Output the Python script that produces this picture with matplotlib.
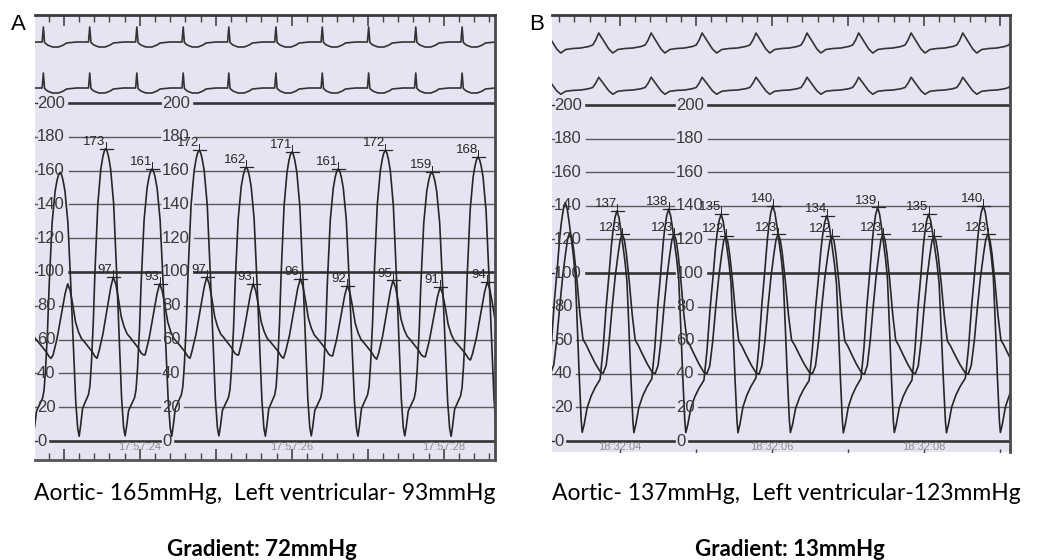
import numpy as np
import matplotlib
matplotlib.use('Agg')
import matplotlib.pyplot as plt

plt.rcParams['font.family'] = ['Liberation Sans', 'DejaVu Sans']

## ---- panel A (seconds past 17:57:00) ----
a_ecg_t = [22.73, 23.34, 23.96, 24.57, 25.17, 25.79, 26.40, 27.01, 27.63, 28.24]
a_up_t = [22.95, 23.55, 24.16, 24.78, 25.40, 26.00, 26.61, 27.23, 27.84, 28.45]
a_up_v = [159, 173, 161, 172, 162, 171, 161, 172, 159, 168]
a_lo_t = [23.05, 23.65, 24.26, 24.88, 25.49, 26.11, 26.73, 27.33, 27.95, 28.57]
a_lo_v = [93, 97, 93, 97, 93, 96, 92, 95, 91, 94]
a_stamps = [24, 26, 28]
a_stamp_txt = ['17:57:24', '17:57:26', '17:57:28']

## ---- panel B (seconds past 18:32:00) ----
b_ecg_t = [3.72, 4.41, 5.08, 5.79, 6.46, 7.14, 7.83, 8.51]
b_up_t = [3.28, 3.96, 4.64, 5.33, 6.01, 6.72, 7.39, 8.06, 8.78]
b_up_v = [142, 137, 138, 135, 140, 134, 139, 135, 140]
b_lo_t = [3.34, 4.03, 4.71, 5.39, 6.08, 6.79, 7.46, 8.13, 8.84]
b_lo_v = [124, 123, 123, 122, 123, 122, 123, 122, 123]
b_stamps = [4, 6, 8]
b_stamp_txt = ['18:32:04', '18:32:06', '18:32:08']

scale_levels = [200, 180, 160, 140, 120, 100, 80, 60, 40, 20, 0]

## one-beat shapes (offset from peak in px, mmHg)
a_up_px = [0, 1.5, 3, 5, 8, 11, 14, 16, 18, 19.5, 21, 23, 26, 29, 30.5, 32, 34, 35.6, 38.6, 41.6, 43.6, 45.1, 46.6]
a_up_sh = [170, 168.5, 165, 158, 138, 98, 55, 25, 8, 3, 9, 19, 23, 27, 32, 45, 70, 98, 138, 158, 165, 168.5, 170]
a_lo_px = [0, 2.5, 5, 8, 11, 14, 17, 21, 25, 28, 30, 32, 34, 36, 39, 41.5, 44, 46.6]
a_lo_sh = [95, 91, 83, 72, 66, 62, 60, 57, 54, 51, 50, 52, 57, 62, 72, 80, 89, 95]
b_up_px = [0, 2, 4, 6, 8, 10, 12, 14, 16, 17, 19, 22, 26, 30, 35, 38, 41, 44, 46.5, 48, 50, 52]
b_up_sh = [138, 134, 126, 117, 108, 96, 68, 38, 12, 5, 10, 20, 27, 32, 37, 55, 80, 100, 118, 126, 134, 138]
b_lo_px = [0, 2, 4, 7, 10, 13, 16, 20, 25, 30, 33, 36, 39, 42, 45, 48, 50, 52]
b_lo_sh = [123, 120, 112, 95, 75, 60, 57, 52, 46, 41, 40, 45, 60, 80, 98, 112, 120, 123]
# ecg complexes (offset from R in px, deflection in px, + is down)
a_ecg_px = [-23, -13, -4, -1.2, 0, 1.2, 4, 9, 15, 20, 23]
a_ecg_dy = [0, -1, -1, -1, -16, -0.5, 2, 4, 4, 2, 0]
b_ecg_px = [-26, -18, -10, -6, -3, 0, 5, 10, 14, 19, 26]
b_ecg_dy = [0.5, 0, -1.5, -3, -8, -15, -7, 1, 5, 1.5, 0.5]

PX = 76.0  # px per second on the strip
BG = '#e6e4f2'
INK = '#262626'


def pressure(pt, pv, px, sh):
    px = np.array(px); sh = np.array(sh)
    ph = px / px[-1]
    imin = int(np.argmin(sh))
    ref = sh[0]
    p = np.mean(np.diff(pt))
    pt = [pt[0] - p] + list(pt) + [pt[-1] + p]
    pv = [pv[0]] + list(pv) + [pv[-1]]
    ts, vs = [], []
    for k in range(len(pt) - 1):
        gap = pt[k + 1] - pt[k]
        for j in range(len(ph) - 1):
            sc = pv[k] if j <= imin else pv[k + 1]
            ts.append(pt[k] + ph[j] * gap)
            vs.append(sh[j] * sc / ref)
    ts.append(pt[-1]); vs.append(pv[-1])
    return np.array(ts), np.array(vs)


def ecg(spk, px, dy, base, ppu, amp=1.0):
    half = px[-1]
    p = np.mean(np.diff(spk))
    spk = [spk[0] - 2 * p, spk[0] - p] + list(spk) + [spk[-1] + p, spk[-1] + 2 * p]
    ts, vs = [], []
    for k in range(1, len(spk) - 1):
        for x, d in zip(px, dy):
            g = (spk[k] - spk[k - 1]) if x < 0 else (spk[k + 1] - spk[k])
            ts.append(spk[k] + x / (2 * half) * g)
            vs.append(base - d * amp / ppu)
    return np.array(ts), np.array(vs)


def scale(ax, x_left, x_second, x_right):
    for lv in scale_levels:
        s = str(lv)
        w = (len(s) * 9.6 + 3) / PX
        thick = lv in (200, 100, 0)
        lw = 1.9 if thick else 1.0
        col = '#333333' if thick else '#5a5a5a'
        for x0 in (x_left, x_second):
            ax.text(x0, lv, s, fontsize=12, color='#3a3a3a', ha='left', va='center')
        ax.plot([x_left + w, x_second - 2 / PX], [lv, lv], color=col, lw=lw)
        ax.plot([x_second + w, x_right], [lv, lv], color=col, lw=lw)
        ax.plot([x_left - 2 / PX, x_left], [lv, lv], color=col, lw=1.0)


def peaks(ax, t, v, dx_txt):
    for tt, vv in zip(t[1:], v[1:]):
        ax.plot([tt - 6 / PX, tt + 7 / PX], [vv, vv], color=INK, lw=0.9)
        ax.plot([tt, tt], [vv, vv + 4], color=INK, lw=0.7)
        ax.text(tt + dx_txt / PX, vv + 0.5, str(vv), fontsize=9.5, color=INK,
                ha='right', va='bottom')


def panel(rect, xlim, ylim, ppu, ecg_t, ecg_px, ecg_dy, ecg_base, ecg_amp,
          up_t, up_v, up_px, up_sh, lo_t, lo_v, lo_px, lo_sh, stamps, stamp_txt,
          second_col, bottom_minor):
    ax = fig.add_axes(rect)
    ax.set_facecolor(BG)
    ax.set_xlim(xlim)
    ax.set_ylim(ylim)
    scale(ax, xlim[0] + 2 / PX, second_col, xlim[1])
    for base, amp in zip(ecg_base, ecg_amp):
        et, ev = ecg(ecg_t, ecg_px, ecg_dy, base, ppu, amp)
        ax.plot(et, ev, color='#333333', lw=1.2)
    ut, uv = pressure(up_t, up_v, up_px, up_sh)
    ax.plot(ut, uv, color=INK, lw=1.2)
    lt, lv = pressure(lo_t, lo_v, lo_px, lo_sh)
    ax.plot(lt, lv, color=INK, lw=1.2)
    peaks(ax, up_t, up_v, 0)
    peaks(ax, lo_t, lo_v, -1)
    for s, txt in zip(stamps, stamp_txt):
        ax.text(s, -3.6, txt, fontsize=8, color='#8c8c8c', ha='center', va='center')
    maj = np.arange(np.ceil(xlim[0]), xlim[1], 1.0)
    mnr = np.arange(np.ceil(xlim[0] * 5) / 5, xlim[1], 0.2)
    ax.set_xticks(maj)
    ax.set_xticks(mnr, minor=True)
    ax.set_yticks([])
    ax.tick_params(axis='x', which='both', top=True, bottom=True, direction='in',
                   labelbottom=False, color='#444444')
    ax.tick_params(axis='x', which='major', length=8, width=1.2)
    ax.tick_params(axis='x', which='minor', length=5, width=1.0)
    ax.spines['left'].set_visible(False)
    ax.spines['top'].set_color('#3a3a3a')
    ax.spines['top'].set_linewidth(2.0)
    ax.spines['right'].set_color('#4a4a4a')
    ax.spines['right'].set_linewidth(2.0)
    if bottom_minor:
        ax.spines['bottom'].set_color('#555555')
        ax.spines['bottom'].set_linewidth(2.0)
    else:
        ax.spines['bottom'].set_visible(False)
        # only small dots on the lower edge of strip B
        ax.plot(maj, [ylim[0] + 0.8] * len(maj), ls='none', marker='|', ms=3,
                color='#444444')
        ax.tick_params(axis='x', which='both', bottom=False)
    return ax


fig = plt.figure(figsize=(10.4, 5.6), dpi=100)

# panel A
a_ppu = 1.69
a_xlim = (22.62, 22.62 + 460 / PX)
a_ylim = ((441 - 460) / a_ppu, (441 - 15) / a_ppu)
panel([35 / 1040, 100 / 560, 460 / 1040, 445 / 560], a_xlim, a_ylim, a_ppu,
      a_ecg_t, a_ecg_px, a_ecg_dy, [(441 - 43) / a_ppu, (441 - 89) / a_ppu], [1.0, 1.0],
      a_up_t, a_up_v, a_up_px, a_up_sh, a_lo_t, a_lo_v, a_lo_px, a_lo_sh,
      a_stamps, a_stamp_txt, a_xlim[0] + 127 / PX, True)

# panel B
b_ppu = 1.68
b_xlim = (3.105, 3.105 + 458 / PX)
b_ylim = ((441 - 452) / b_ppu, (441 - 15) / b_ppu)
panel([552 / 1040, 108 / 560, 458 / 1040, 437 / 560], b_xlim, b_ylim, b_ppu,
      b_ecg_t, b_ecg_px, b_ecg_dy, [(441 - 48) / b_ppu, (441 - 90) / b_ppu], [1.0, 0.85],
      b_up_t, b_up_v, b_up_px, b_up_sh, b_lo_t, b_lo_v, b_lo_px, b_lo_sh,
      b_stamps, b_stamp_txt, b_xlim[0] + 124 / PX, False)

fig.text(18 / 1040, 1 - 25 / 560, 'A', fontsize=16, ha='center', va='center')
fig.text(537 / 1040, 1 - 25 / 560, 'B', fontsize=16, ha='center', va='center')

cap = ['Aortic- 165mmHg,  Left ventricular- 93mmHg', 'Aortic- 137mmHg,  Left ventricular-123mmHg']
grad = ['Gradient: 72mmHg', 'Gradient: 13mmHg']
fig.text(265 / 1040, 1 - 494 / 560, cap[0], fontsize=16.5, family=['Lato', 'DejaVu Sans'],
         ha='center', va='center')
fig.text(786 / 1040, 1 - 494 / 560, cap[1], fontsize=16.5, family=['Lato', 'DejaVu Sans'],
         ha='center', va='center')
fig.text(262 / 1040, 1 - 550 / 560, grad[0], fontsize=16, fontweight='bold',
         family=['Lato', 'DejaVu Sans'], ha='center', va='center')
fig.text(790 / 1040, 1 - 550 / 560, grad[1], fontsize=16, fontweight='bold',
         family=['Lato', 'DejaVu Sans'], ha='center', va='center')

fig.savefig('out.png', dpi=100)
